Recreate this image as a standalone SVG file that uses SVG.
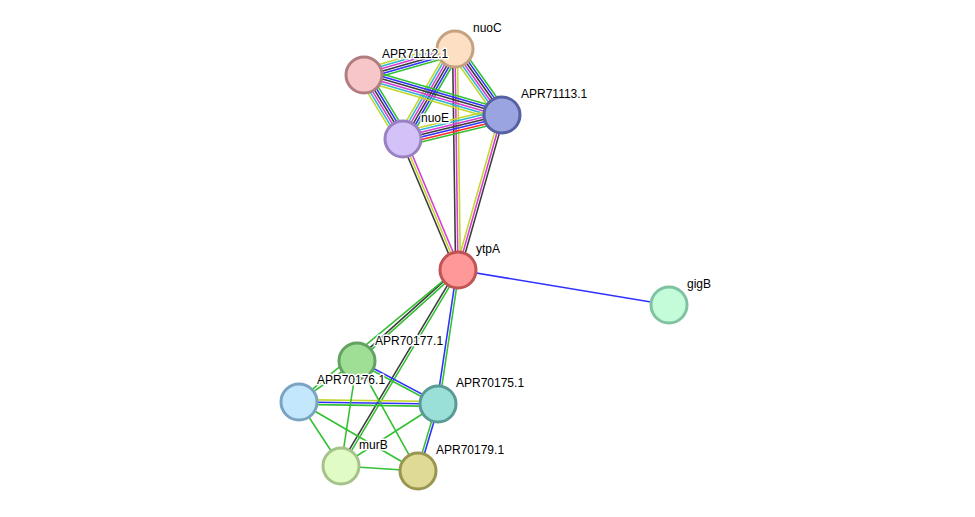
<svg xmlns="http://www.w3.org/2000/svg" width="975" height="517" viewBox="0 0 975 517">
<style>
line{stroke-width:1.3;fill:none}
.g{stroke:#33c033}.b{stroke:#3030ff}.k{stroke:#3c3c3c}.m{stroke:#d63cd6}.c{stroke:#30b4d4}.y{stroke:#c4d62c}.r{stroke:#ff2a2a}
circle{stroke-width:3}
text{font-family:"Liberation Sans",Arial,sans-serif;font-size:12px;fill:#000;paint-order:stroke;stroke:#fff;stroke-width:3px;stroke-linejoin:round}
</style>
<rect width="975" height="517" fill="#fff"/>
<g id="edges">
<g transform="translate(455,49) rotate(164.05) scale(1,1.2)"><line class="g" x2="94.6" y1="-5" y2="-5"/><line class="b" x2="94.6" y1="-3" y2="-3"/><line class="k" x2="94.6" y1="-1" y2="-1"/><line class="m" x2="94.6" y1="1" y2="1"/><line class="c" x2="94.6" y1="3" y2="3"/><line class="y" x2="94.6" y1="5" y2="5"/></g>
<g transform="translate(455,49) rotate(54.55) scale(1,1.2)"><line class="g" x2="81" y1="-5" y2="-5"/><line class="b" x2="81" y1="-3" y2="-3"/><line class="k" x2="81" y1="-1" y2="-1"/><line class="m" x2="81" y1="1" y2="1"/><line class="c" x2="81" y1="3" y2="3"/><line class="y" x2="81" y1="5" y2="5"/></g>
<g transform="translate(455,49) rotate(120.02) scale(1,1.2)"><line class="g" x2="103.9" y1="-5" y2="-5"/><line class="b" x2="103.9" y1="-3" y2="-3"/><line class="k" x2="103.9" y1="-1" y2="-1"/><line class="m" x2="103.9" y1="1" y2="1"/><line class="c" x2="103.9" y1="3" y2="3"/><line class="y" x2="103.9" y1="5" y2="5"/></g>
<g transform="translate(455,49) rotate(89.22) scale(1,1.2)"><line class="k" x2="221" y1="2" y2="2"/><line class="m" x2="221" y1="0" y2="0"/><line class="y" x2="221" y1="-2" y2="-2"/></g>
<g transform="translate(364,75) rotate(16.16) scale(1,1.2)"><line class="g" x2="143.7" y1="-5" y2="-5"/><line class="b" x2="143.7" y1="-3" y2="-3"/><line class="k" x2="143.7" y1="-1" y2="-1"/><line class="m" x2="143.7" y1="1" y2="1"/><line class="c" x2="143.7" y1="3" y2="3"/><line class="y" x2="143.7" y1="5" y2="5"/></g>
<g transform="translate(364,75) rotate(58.64) scale(1,1.2)"><line class="g" x2="74.9" y1="-5" y2="-5"/><line class="b" x2="74.9" y1="-3" y2="-3"/><line class="k" x2="74.9" y1="-1" y2="-1"/><line class="m" x2="74.9" y1="1" y2="1"/><line class="c" x2="74.9" y1="3" y2="3"/><line class="y" x2="74.9" y1="5" y2="5"/></g>
<g transform="translate(502,115) rotate(166.37) scale(1,1.2)"><line class="g" x2="101.9" y1="-6" y2="-6"/><line class="r" x2="101.9" y1="-4" y2="-4"/><line class="b" x2="101.9" y1="-2" y2="-2"/><line class="k" x2="101.9" y1="0" y2="0"/><line class="m" x2="101.9" y1="2" y2="2"/><line class="c" x2="101.9" y1="4" y2="4"/><line class="y" x2="101.9" y1="6" y2="6"/></g>
<g transform="translate(502,115) rotate(105.85) scale(1,1.2)"><line class="k" x2="161.1" y1="-2" y2="-2"/><line class="m" x2="161.1" y1="0" y2="0"/><line class="y" x2="161.1" y1="2" y2="2"/></g>
<g transform="translate(403,139) rotate(67.23) scale(1,1.2)"><line class="k" x2="142.1" y1="2" y2="2"/><line class="y" x2="142.1" y1="0" y2="0"/><line class="m" x2="142.1" y1="-2" y2="-2"/></g>
<g transform="translate(458,270) rotate(9.42) scale(1,1.2)"><line class="b" x2="213.9"/></g>
<g transform="translate(458,270) rotate(137.98) scale(1,1.2)"><line class="g" x2="135.9" y1="-1" y2="-1"/><line class="k" x2="135.9" y1="1" y2="1"/></g>
<g transform="translate(458,270) rotate(140.30) scale(1,1.2)"><line class="g" x2="206.7" y1="1" y2="1"/></g>
<g transform="translate(458,270) rotate(120.84) scale(1,1.2)"><line class="g" x2="228.3" y1="-1" y2="-1"/><line class="k" x2="228.3" y1="1" y2="1"/></g>
<g transform="translate(458,270) rotate(98.49) scale(1,1.2)"><line class="g" x2="135.5" y1="-1" y2="-1"/><line class="b" x2="135.5" y1="1" y2="1"/></g>
<g transform="translate(357,361) rotate(27.96) scale(1,1.2)"><line class="b" x2="91.7" y1="-1" y2="-1"/><line class="g" x2="91.7" y1="1" y2="1"/></g>
<g transform="translate(299,402) rotate(0.82) scale(1,1.2)"><line class="y" x2="139" y1="-2" y2="-2"/><line class="b" x2="139" y1="0" y2="0"/><line class="g" x2="139" y1="2" y2="2"/></g>
<g transform="translate(299,402) rotate(56.73) scale(1,1.2)"><line class="g" x2="76.6"/></g>
<g transform="translate(299,402) rotate(30.11) scale(1,1.2)"><line class="g" x2="137.6"/></g>
<g transform="translate(357,361) rotate(98.66) scale(1,1.2)"><line class="g" x2="106.2"/></g>
<g transform="translate(357,361) rotate(60.99) scale(1,1.2)"><line class="g" x2="125.8"/></g>
<g transform="translate(438,404) rotate(147.41) scale(1,1.2)"><line class="g" x2="115.1"/></g>
<g transform="translate(438,404) rotate(106.62) scale(1,1.2)"><line class="b" x2="69.9" y1="-1" y2="-1"/><line class="g" x2="69.9" y1="1" y2="1"/></g>
<g transform="translate(341,466) rotate(3.72) scale(1,1.2)"><line class="g" x2="77.2"/></g>
<g transform="translate(357,361) rotate(144.74) scale(1,1.2)"><line class="g" x2="71"/></g>
</g>
<g id="nuoC"><circle cx="455" cy="49" r="18" fill="#fddfc3" stroke="#c4a27f"/><text x="473" y="32">nuoC</text></g>
<g id="APR71112.1"><circle cx="364" cy="75" r="18" fill="#f6c6c8" stroke="#b17c7f"/><text x="382" y="58">APR71112.1</text></g>
<g id="APR71113.1"><circle cx="502" cy="115" r="18" fill="#9aa4e0" stroke="#5660a2"/><text x="521" y="98">APR71113.1</text></g>
<g id="nuoE"><circle cx="403" cy="139" r="18" fill="#d3c2f8" stroke="#9a82c2"/><text x="421" y="122">nuoE</text></g>
<g id="ytpA"><circle cx="458" cy="270" r="18" fill="#ff9898" stroke="#c05454"/><text x="476" y="253">ytpA</text></g>
<g id="gigB"><circle cx="669" cy="305" r="18" fill="#c4fbd8" stroke="#80c2a2"/><text x="687" y="288">gigB</text></g>
<g id="APR70177.1"><circle cx="357" cy="361" r="18" fill="#9ede95" stroke="#62a262"/><text x="375" y="345">APR70177.1</text></g>
<g id="APR70176.1"><circle cx="299" cy="402" r="18" fill="#c3e8fd" stroke="#7aa4c2"/><text x="317" y="384">APR70176.1</text></g>
<g id="APR70175.1"><circle cx="438" cy="404" r="18" fill="#9adfd8" stroke="#5a9a94"/><text x="456" y="387">APR70175.1</text></g>
<g id="murB"><circle cx="341" cy="466" r="18" fill="#e0fcc4" stroke="#a4c28a"/><text x="359" y="449">murB</text></g>
<g id="APR70179.1"><circle cx="418" cy="471" r="18" fill="#dfdb96" stroke="#9a9652"/><text x="436" y="454">APR70179.1</text></g>
</svg>
